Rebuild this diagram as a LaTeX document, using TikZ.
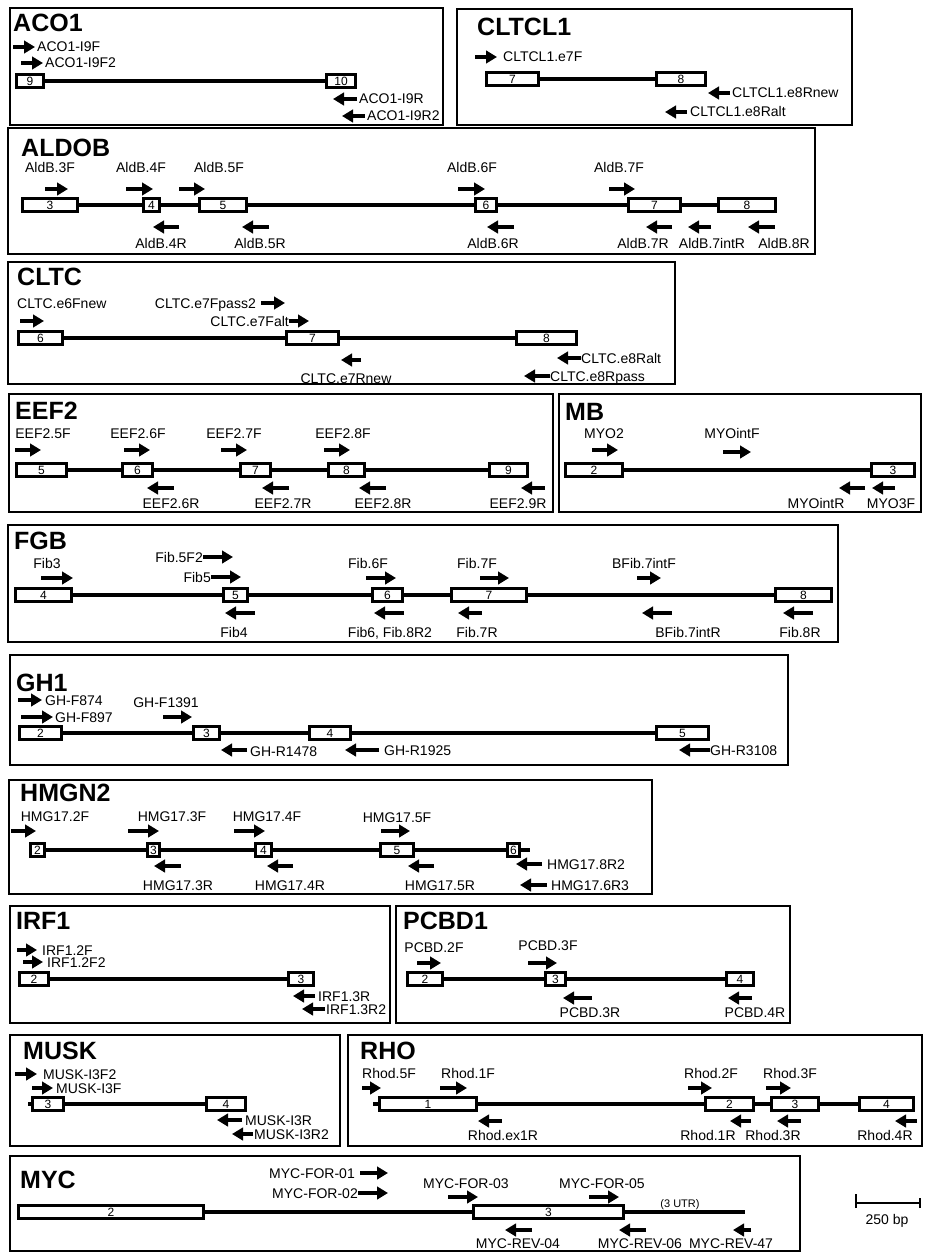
\documentclass[tikz,border=0pt]{standalone}
\usepackage{fontspec}
\setmainfont{Liberation Sans}
\usetikzlibrary{arrows.meta}
\usetikzlibrary{positioning}
\tikzstyle{panel}=[draw,line width=1.6pt]
\tikzstyle{exon}=[draw,fill=white,line width=3pt,minimum height=12.5pt,inner sep=0pt,font=\fontsize{12}{12}\selectfont]
\tikzstyle{intron}=[line width=3.2pt]
\tikzstyle{primer}=[line width=4.2pt,-{Triangle[length=11pt,width=12.5pt]}]
\tikzstyle{lab}=[font=\fontsize{14}{14}\selectfont,inner sep=0pt,text height=10pt,text depth=0pt]
\tikzstyle{gname}=[font=\bfseries\fontsize{25}{25}\selectfont,anchor=north west,inner sep=0pt]
\newcommand{\exon}[5]{\node[exon,minimum width={#3pt-#2pt-3pt}] (#1) at ({(#2+#3)/2},#4) {#5};}
\newcommand{\fwd}[3]{\draw[primer] (#1,#3) -- (#2,#3);}
\newcommand{\rev}[3]{\draw[primer] (#2,#3) -- (#1,#3);}

\begin{document}
\begin{tikzpicture}[x=1pt,y=-1pt]
\useasboundingbox (0,0) rectangle (927,1252);

% ACO1
\draw[panel] (10,8) rectangle (443,125);
\node[gname] (tAco) at (13,14) {ACO1};
\fwd{13}{35}{47} \node[lab,anchor=west] (acoF) at (37,47) {ACO1-I9F};
\fwd{21}{43}{63} \node[lab,anchor=west] (acoFb) at (45,63) {ACO1-I9F2};
\exon{aco9}{15}{45}{81}{9}
\exon{aco10}{325}{357}{81}{10}
\draw[intron] (aco9) -- (aco10);
\rev{333}{357}{99} \node[lab,anchor=west] (acoR) at (359,99) {ACO1-I9R};
\rev{342}{365}{116} \node[lab,anchor=west] (acoRb) at (367,116) {ACO1-I9R2};

% CLTCL1
\draw[panel] (457,9) rectangle (852,125);
\node[gname] (tCltcl) at (477,18) {CLTCL1};
\fwd{475}{497}{57} \node[lab,anchor=west] (cltclF) at (503,57) {CLTCL1.e7F};
\exon{cltcl7}{485}{540}{79}{7}
\exon{cltcl8}{655}{707}{79}{8}
\draw[intron] (cltcl7) -- (cltcl8);
\rev{708}{730}{93} \node[lab,anchor=west] (cltclR) at (732,93) {CLTCL1.e8Rnew};
\rev{665}{687}{112} \node[lab,anchor=west] (cltclRb) at (690,112) {CLTCL1.e8Ralt};

% ALDOB
\draw[panel] (8,128) rectangle (815,254);
\node[gname] (tAld) at (21,139) {ALDOB};
\node[lab] (ald3F) at (50,168) {AldB.3F};
\node[lab] (ald4F) at (141,168) {AldB.4F};
\node[lab] (ald5F) at (219,168) {AldB.5F};
\node[lab] (ald6F) at (472,168) {AldB.6F};
\node[lab] (ald7F) at (619,168) {AldB.7F};
\fwd{45}{68}{189} \fwd{126}{153}{189} \fwd{179}{205}{189} \fwd{458}{485}{189} \fwd{609}{635}{189}
\exon{ald3}{21}{79}{205}{3}
\exon{ald4}{142}{161}{205}{4}
\exon{ald5}{198}{248}{205}{5}
\exon{ald6}{474}{498}{205}{6}
\exon{ald7}{627}{682}{205}{7}
\exon{ald8}{717}{777}{205}{8}
\draw[intron] (ald3) -- (ald4) (ald4) -- (ald5) (ald5) -- (ald6) (ald6) -- (ald7) (ald7) -- (ald8);
\rev{153}{179}{227} \rev{242}{269}{227} \rev{487}{514}{227} \rev{646}{672}{227} \rev{688}{711}{227} \rev{748}{775}{227}
\node[lab] (ald4R) at (161,243) {AldB.4R};
\node[lab] (ald5R) at (260,243) {AldB.5R};
\node[lab] (ald6R) at (493,243) {AldB.6R};
\node[lab] (ald7R) at (643,243) {AldB.7R};
\node[lab] (ald7iR) at (712,243) {AldB.7intR};
\node[lab] (ald8R) at (784,243) {AldB.8R};

% CLTC
\draw[panel] (8,262) rectangle (675,384);
\node[gname] (tCltc) at (17,268) {CLTC};
\node[lab,anchor=west] (cltc6F) at (17,303) {CLTC.e6Fnew};
\fwd{20}{44}{321}
\node[lab,anchor=east] (cltc7Fp) at (256,303) {CLTC.e7Fpass2};
\fwd{261}{285}{303}
\node[lab,anchor=east] (cltc7Fa) at (289,321) {CLTC.e7Falt};
\fwd{289}{309}{321}
\exon{cltc6}{17}{64}{338}{6}
\exon{cltc7}{285}{340}{338}{7}
\exon{cltc8}{515}{578}{338}{8}
\draw[intron] (cltc6) -- (cltc7) (cltc7) -- (cltc8);
\rev{341}{361}{360} \node[lab] (cltc7R) at (346,378) {CLTC.e7Rnew};
\rev{557}{581}{358} \node[lab,anchor=west] (cltc8Ra) at (581,358) {CLTC.e8Ralt};
\rev{524}{550}{376} \node[lab,anchor=west] (cltc8Rp) at (550,376) {CLTC.e8Rpass};

% EEF2
\draw[panel] (9,394) rectangle (553,512);
\node[gname] (tEef) at (15,402) {EEF2};
\node[lab] (eef5F) at (43,433) {EEF2.5F};
\node[lab] (eef6F) at (138,433) {EEF2.6F};
\node[lab] (eef7F) at (234,433) {EEF2.7F};
\node[lab] (eef8F) at (343,433) {EEF2.8F};
\fwd{15}{41}{450} \fwd{124}{150}{450} \fwd{221}{247}{450} \fwd{324}{350}{450}
\exon{eef5}{15}{68}{470}{5}
\exon{eef6}{121}{154}{470}{6}
\exon{eef7}{239}{272}{470}{7}
\exon{eef8}{327}{366}{470}{8}
\exon{eef9}{488}{529}{470}{9}
\draw[intron] (eef5) -- (eef6) (eef6) -- (eef7) (eef7) -- (eef8) (eef8) -- (eef9);
\rev{147}{174}{488} \rev{262}{289}{488} \rev{359}{386}{488} \rev{521}{545}{488}
\node[lab] (eef6R) at (171,503) {EEF2.6R};
\node[lab] (eef7R) at (283,503) {EEF2.7R};
\node[lab] (eef8R) at (383,503) {EEF2.8R};
\node[lab] (eef9R) at (518,503) {EEF2.9R};

% MB
\draw[panel] (559,394) rectangle (921,512);
\node[gname] (tMb) at (565,403) {MB};
\node[lab] (mbF) at (604,433) {MYO2};
\node[lab] (mbiF) at (732,433) {MYOintF};
\fwd{592}{618}{450} \fwd{723}{751}{452}
\exon{mb2}{564}{624}{470}{2}
\exon{mb3}{870}{916}{470}{3}
\draw[intron] (mb2) -- (mb3);
\rev{839}{865}{488} \rev{872}{895}{488}
\node[lab] (mbiR) at (816,503) {MYOintR};
\node[lab] (mbR) at (891,503) {MYO3F};

% FGB
\draw[panel] (8,525) rectangle (838,642);
\node[gname] (tFgb) at (14,532) {FGB};
\node[lab] (fib3) at (47,563) {Fib3};
\fwd{41}{73}{578}
\node[lab,anchor=east] (fib5b) at (203,557) {Fib.5F2};
\fwd{203}{233}{557}
\node[lab,anchor=east] (fib5) at (211,577) {Fib5};
\fwd{211}{241}{577}
\node[lab] (fib6F) at (368,563) {Fib.6F};
\node[lab] (fib7F) at (477,563) {Fib.7F};
\node[lab] (fibiF) at (644,563) {BFib.7intF};
\fwd{366}{396}{578} \fwd{480}{509}{578} \fwd{637}{661}{578}
\exon{fgb4}{14}{73}{595}{4}
\exon{fgb5}{222}{249}{595}{5}
\exon{fgb6}{371}{404}{595}{6}
\exon{fgb7}{450}{528}{595}{7}
\exon{fgb8}{774}{833}{595}{8}
\draw[intron] (fgb4) -- (fgb5) (fgb5) -- (fgb6) (fgb6) -- (fgb7) (fgb7) -- (fgb8);
\rev{225}{255}{613} \rev{374}{404}{613} \rev{458}{482}{613} \rev{642}{672}{613} \rev{783}{813}{613}
\node[lab] (fib4) at (234,632) {Fib4};
\node[lab] (fib6) at (390,632) {Fib6, Fib.8R2};
\node[lab] (fib7R) at (477,632) {Fib.7R};
\node[lab] (fibiR) at (688,632) {BFib.7intR};
\node[lab] (fib8R) at (800,632) {Fib.8R};

% GH1
\draw[panel] (10,655) rectangle (788,765);
\node[gname] (tGh) at (16,674) {GH1};
\fwd{18}{42}{700} \node[lab,anchor=west] (ghF874) at (45,700) {GH-F874};
\fwd{21}{53}{717} \node[lab,anchor=west] (ghF897) at (55,717) {GH-F897};
\node[lab] (ghF1391) at (166,702) {GH-F1391};
\fwd{163}{192}{717}
\exon{gh2}{18}{63}{733}{2}
\exon{gh3}{192}{221}{733}{3}
\exon{gh4}{308}{352}{733}{4}
\exon{gh5}{655}{710}{733}{5}
\draw[intron] (gh2) -- (gh3) (gh3) -- (gh4) (gh4) -- (gh5);
\rev{221}{247}{750} \node[lab,anchor=west] (ghR1478) at (250,751) {GH-R1478};
\rev{345}{379}{750} \node[lab,anchor=west] (ghR1925) at (384,750) {GH-R1925};
\rev{679}{710}{750} \node[lab,anchor=west] (ghR3108) at (710,750) {GH-R3108};

% HMGN2
\draw[panel] (9,780) rectangle (652,894);
\node[gname] (tHmg) at (20,784) {HMGN2};
\node[lab] (hmg2F) at (55,816) {HMG17.2F};
\node[lab] (hmg3F) at (172,816) {HMG17.3F};
\node[lab] (hmg4F) at (267,816) {HMG17.4F};
\node[lab] (hmg5F) at (397,817) {HMG17.5F};
\fwd{11}{36}{831} \fwd{128}{159}{831} \fwd{234}{265}{831} \fwd{381}{410}{831}
\exon{hmg2}{29}{46}{850}{2}
\exon{hmg3}{146}{161}{850}{3}
\exon{hmg4}{254}{273}{850}{4}
\exon{hmg5}{379}{415}{850}{5}
\exon{hmg6}{506}{521}{850}{6}
\coordinate (hmgEnd) at (530,850);
\draw[intron] (hmg2) -- (hmg3) (hmg3) -- (hmg4) (hmg4) -- (hmg5) (hmg5) -- (hmg6) (hmg6) -- (hmgEnd);
\rev{154}{181}{866} \rev{267}{293}{866} \rev{408}{434}{866}
\node[lab] (hmg3R) at (178,885) {HMG17.3R};
\node[lab] (hmg4R) at (290,885) {HMG17.4R};
\node[lab] (hmg5R) at (440,885) {HMG17.5R};
\rev{516}{542}{864} \node[lab,anchor=west] (hmg8R) at (547,864) {HMG17.8R2};
\rev{520}{547}{885} \node[lab,anchor=west] (hmg6R) at (551,885) {HMG17.6R3};

% IRF1
\draw[panel] (10,906) rectangle (390,1023);
\node[gname] (tIrf) at (16,912) {IRF1};
\fwd{17}{37}{950} \node[lab,anchor=west] (irfF) at (42,950) {IRF1.2F};
\fwd{23}{43}{962} \node[lab,anchor=west] (irfFb) at (47,962) {IRF1.2F2};
\exon{irf2}{18}{50}{979}{2}
\exon{irf3}{287}{315}{979}{3}
\draw[intron] (irf2) -- (irf3);
\rev{293}{315}{996} \node[lab,anchor=west] (irfR) at (318,996) {IRF1.3R};
\rev{302}{325}{1009} \node[lab,anchor=west] (irfRb) at (326,1009) {IRF1.3R2};

% PCBD1
\draw[panel] (396,906) rectangle (790,1023);
\node[gname] (tPcbd) at (403,912) {PCBD1};
\node[lab] (pcbd2F) at (434,947) {PCBD.2F};
\node[lab] (pcbd3F) at (548,945) {PCBD.3F};
\fwd{417}{441}{963} \fwd{528}{557}{963}
\exon{pcbd2}{406}{444}{979}{2}
\exon{pcbd3}{544}{567}{979}{3}
\exon{pcbd4}{725}{755}{979}{4}
\draw[intron] (pcbd2) -- (pcbd3) (pcbd3) -- (pcbd4);
\rev{563}{592}{998} \rev{728}{752}{998}
\node[lab] (pcbd3R) at (590,1012) {PCBD.3R};
\node[lab] (pcbd4R) at (755,1012) {PCBD.4R};

% MUSK
\draw[panel] (10,1035) rectangle (340,1146);
\node[gname] (tMusk) at (23,1042) {MUSK};
\fwd{15}{37}{1074} \node[lab,anchor=west] (muskFb) at (43,1074) {MUSK-I3F2};
\fwd{32}{53}{1088} \node[lab,anchor=west] (muskF) at (56,1088) {MUSK-I3F};
\exon{musk3}{31}{65}{1104}{3}
\exon{musk4}{205}{247}{1104}{4}
\coordinate (muskStart) at (28,1104);
\draw[intron] (muskStart) -- (musk3) (musk3) -- (musk4);
\rev{217}{242}{1120} \node[lab,anchor=west] (muskR) at (245,1120) {MUSK-I3R};
\rev{232}{253}{1134} \node[lab,anchor=west] (muskRb) at (254,1134) {MUSK-I3R2};

% RHO
\draw[panel] (348,1035) rectangle (922,1146);
\node[gname] (tRho) at (360,1042) {RHO};
\node[lab] (rho5F) at (389,1073) {Rhod.5F};
\node[lab] (rho1F) at (468,1073) {Rhod.1F};
\node[lab] (rho2F) at (711,1073) {Rhod.2F};
\node[lab] (rho3F) at (790,1073) {Rhod.3F};
\fwd{362}{381}{1088} \fwd{440}{467}{1088} \fwd{688}{712}{1088} \fwd{766}{791}{1088}
\exon{rho1}{378}{478}{1104}{1}
\exon{rho2}{704}{755}{1104}{2}
\exon{rho3}{770}{820}{1104}{3}
\exon{rho4}{858}{915}{1104}{4}
\coordinate (rhoStart) at (373,1104);
\draw[intron] (rhoStart) -- (rho1) (rho1) -- (rho2) (rho2) -- (rho3) (rho3) -- (rho4);
\rev{478}{502}{1121} \rev{730}{751}{1121} \rev{777}{801}{1121} \rev{895}{917}{1121}
\node[lab] (rhoex1R) at (503,1135) {Rhod.ex1R};
\node[lab] (rho1R) at (708,1135) {Rhod.1R};
\node[lab] (rho3R) at (773,1135) {Rhod.3R};
\node[lab] (rho4R) at (885,1135) {Rhod.4R};

% MYC
\draw[panel] (10,1156) rectangle (800,1251);
\node[gname] (tMyc) at (20,1171) {MYC};
\node[lab,anchor=east] (myc01) at (355,1173) {MYC-FOR-01};
\fwd{360}{388}{1173}
\node[lab,anchor=east] (myc02) at (358,1193) {MYC-FOR-02};
\fwd{358}{388}{1193}
\node[lab] (myc03) at (466,1183) {MYC-FOR-03};
\node[lab] (myc05) at (602,1183) {MYC-FOR-05};
\fwd{448}{478}{1197} \fwd{589}{619}{1197}
\node[lab,font=\fontsize{11}{11}\selectfont,text height=8pt] (mycUtr) at (680,1203) {(3 UTR)};
\exon{myc2}{17}{205}{1212}{2}
\exon{myc3}{472}{625}{1212}{3}
\coordinate (mycEnd) at (745,1212);
\draw[intron] (myc2) -- (myc3) (myc3) -- (mycEnd);
\rev{505}{532}{1230} \rev{619}{646}{1230} \rev{733}{751}{1230}
\node[lab] (myc04) at (518,1243) {MYC-REV-04};
\node[lab] (myc06) at (640,1243) {MYC-REV-06};
\node[lab] (myc47) at (731,1243) {MYC-REV-47};

% scale bar
\coordinate (sbL) at (856,1203);
\coordinate (sbR) at (920,1203);
\draw[line width=1.4pt] (sbL) -- (sbR) ([yshift=-5pt]sbL) -- ([yshift=9pt]sbL) ([yshift=-5pt]sbR) -- ([yshift=5pt]sbR);
\node[lab] (sbLab) at (887,1219) {250 bp};
\end{tikzpicture}
\end{document}
